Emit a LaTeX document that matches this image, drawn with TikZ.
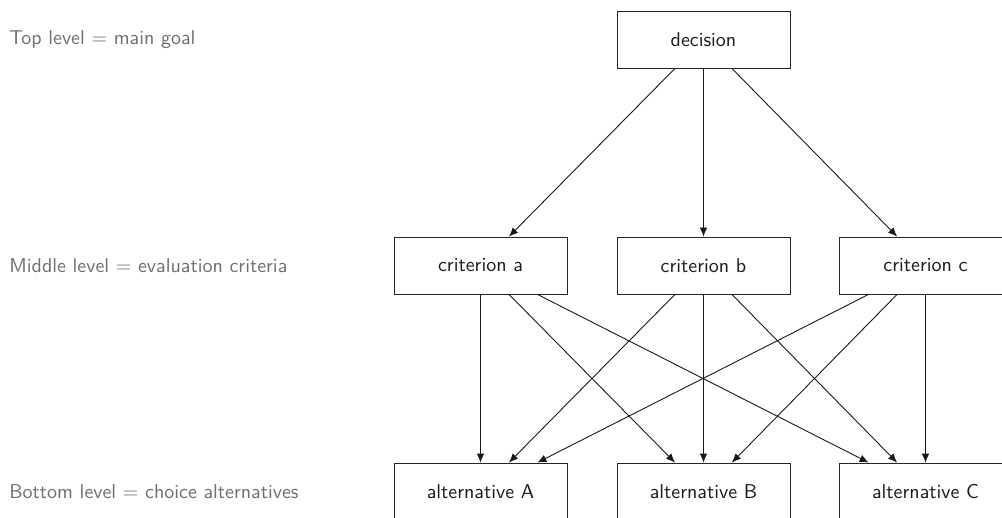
\documentclass[tikz,border=0pt]{standalone}
\usetikzlibrary{arrows.meta}
\renewcommand{\familydefault}{\sfdefault}
\definecolor{lvlgray}{HTML}{6E6E6E}
\definecolor{boxtext}{HTML}{1A1A1A}
\begin{document}
\begin{tikzpicture}[x=0.5pt,y=-0.5pt,
  boxnode/.style={draw=black!85,line width=0.45pt,minimum width=86.5pt,minimum height=28.5pt,inner sep=0pt,text=boxtext,font=\sffamily},
  lvllabel/.style={anchor=west,text=lvlgray,font=\sffamily,inner sep=0pt},
  conn/.style={draw=black!90,line width=0.45pt,-{Latex[length=4.5pt,width=3.8pt]}}]
\useasboundingbox (0,0) rectangle (1002,518);
\node[lvllabel] (lt) at (9,39.5) {Top level $=$ main goal};
\node[lvllabel] (lm) at (9,265.5) {Middle level $=$ evaluation criteria};
\node[lvllabel] (lb) at (9,491.5) {Bottom level $=$ choice alternatives};
\node[boxnode] (d) at (703.5,39.5) {decision};
\node[boxnode] (ca) at (480.5,265.5) {criterion a};
\node[boxnode] (cb) at (703.5,265.5) {criterion b};
\node[boxnode] (cc) at (925.5,265.5) {criterion c};
\node[boxnode] (aa) at (480.5,491.5) {alternative A};
\node[boxnode] (ab) at (703.5,491.5) {alternative B};
\node[boxnode] (ac) at (925.5,491.5) {alternative C};
\foreach \c in {ca,cb,cc} {\draw[conn] (d) -- (\c);}
\foreach \c in {ca,cb,cc} {\foreach \a in {aa,ab,ac} {\draw[conn] (\c) -- (\a);}}
\end{tikzpicture}
\end{document}
